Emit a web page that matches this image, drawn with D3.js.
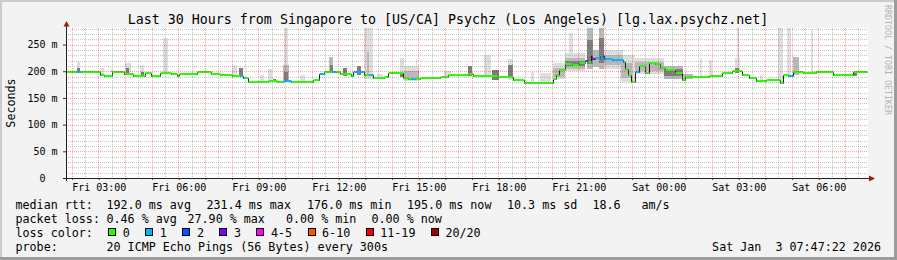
<!DOCTYPE html>
<html>
<head>
<meta charset="utf-8">
<script src="https://cdn.jsdelivr.net/npm/d3@7"></script>
<style>
  body { margin: 0; background: #f3f3f3; }
  svg text { font-family: "DejaVu Sans Mono", monospace; fill: #000; }
</style>
</head>
<body>
<svg id="chart" width="897" height="260"></svg>
<script>
// median rtt change points: hours since Fri 2026-01-02 00:00 and ms
const medianHour = [1.78, 3.06, 3.18, 3.51, 3.93, 4.30, 4.75, 4.94, 5.31, 5.69, 5.95, 5.99, 6.70, 7.19, 7.56,
  8.01, 8.39, 8.58, 9.36, 9.70, 9.89, 10.19, 11.05, 11.24, 11.43, 12.06, 12.44, 12.55, 12.93, 13.30, 13.68,
  13.86, 14.39, 14.58, 15.06, 15.56, 15.81, 16.08, 16.83, 17.05, 17.95, 18.55, 18.93, 20.05, 20.16, 20.24,
  20.50, 20.76, 20.99, 21.25, 21.36, 21.44, 21.51, 21.59, 21.81, 21.93, 22.26, 22.64, 22.75, 22.86, 22.94,
  23.09, 23.24, 23.48, 23.63, 23.85, 24.04, 24.23, 24.60, 24.86, 24.98, 25.89, 26.38, 26.75, 27.13, 27.39,
  27.64, 28.01, 28.54, 28.65, 28.84, 29.03, 29.40, 29.89, 30.53, 31.28, 31.80];
const medianMs = [198, 193, 191, 198, 194, 191, 196, 192, 196, 194, 191, 194, 198, 194, 193,
  191.5, 186.5, 179, 181, 179, 181, 179, 183, 195, 198, 194, 191, 198, 193, 186.5, 189,
  196, 187, 185, 187, 188, 189, 193, 194, 191, 190, 183.5, 178.5, 186, 193, 202,
  213, 212, 216, 220, 218, 231, 222, 225, 228, 223, 221, 218, 205, 193, 180,
  199, 209, 196, 215, 213, 206, 202, 196, 183, 189, 191, 196, 201, 193, 187,
  182, 183.5, 178.5, 193, 191, 199, 196, 198, 193, 198, 198];

// packet loss runs (everything else is 0 lost)
const lossFrom = [2.20, 8.31, 9.89, 11.24, 11.76, 12.55, 13.15, 14.69, 21.25, 21.44, 21.51, 21.59, 21.86, 21.96, 23.09, 28.84];
const lossTo   = [2.35, 8.43, 10.19, 11.43, 11.88, 12.93, 13.27, 14.84, 21.36, 21.51, 21.59, 21.86, 21.96, 22.68, 23.24, 29.03];
const lossIdx  = [1, 1, 1, 1, 1, 1, 1, 1, 3, 5, 3, 1, 2, 1, 1, 1];

// smoke: [fromHour, toHour, lowMs, highMs, shade 1..3]
const smoke = [
  [2.20, 2.31, 198, 218, 1], [2.20, 2.31, 198, 207, 3],
  [3.06, 3.18, 191, 206, 1], [3.44, 3.52, 198, 202, 2],
  [3.99, 4.19, 194, 216, 1], [4.03, 4.15, 194, 206, 3],
  [4.56, 4.68, 191, 212, 1], [4.60, 4.68, 191, 199, 3],
  [5.39, 5.58, 194, 262, 1],
  [8.01, 8.20, 191, 212, 1], [8.24, 8.39, 191, 206, 3],
  [9.06, 9.18, 179, 193, 1], [9.36, 9.51, 181, 203.5, 1], [9.55, 9.63, 181, 186, 3],
  [9.93, 10.08, 179, 290, 1], [9.89, 10.12, 183, 212, 2], [9.93, 10.08, 181, 198, 3],
  [10.56, 10.75, 179, 193, 1],
  [11.62, 11.80, 198, 227, 2], [11.66, 11.80, 198, 212, 3],
  [12.17, 12.32, 191, 206, 3], [12.70, 12.82, 193, 210, 3],
  [12.93, 13.30, 186, 290, 1], [13.04, 13.15, 193, 236, 2],
  [13.45, 13.64, 189, 195, 1],
  [14.31, 14.43, 196, 224, 1], [14.31, 14.43, 190, 196, 3],
  [14.43, 14.99, 181, 210, 1], [14.43, 14.99, 183, 200, 2], [14.88, 14.95, 187, 222, 1],
  [15.93, 16.19, 189, 200, 1], [16.86, 17.01, 191, 210, 3],
  [17.43, 17.69, 191, 230, 1], [17.76, 17.99, 184, 203, 3],
  [18.36, 18.55, 184, 222, 1], [18.36, 18.55, 188, 212, 3],
  [19.19, 19.31, 179, 199, 1], [19.56, 19.94, 179, 196, 1],
  [20.05, 20.50, 185, 215, 1], [20.05, 20.50, 190, 206, 2],
  [20.50, 21.25, 200, 235, 1], [20.50, 21.25, 205, 225, 2], [20.50, 21.25, 209, 219, 3],
  [20.62, 20.80, 210, 271, 1],
  [21.30, 21.55, 205, 290, 2], [21.30, 21.55, 214, 258, 3],
  [21.55, 21.75, 208, 240, 2],
  [21.75, 21.96, 205, 290, 2], [21.75, 21.96, 216, 262, 3],
  [21.96, 22.65, 205, 240, 1], [21.96, 22.65, 212, 230, 2],
  [22.56, 23.10, 180, 230, 1], [22.60, 23.00, 188, 215, 2],
  [23.10, 24.20, 195, 225, 1], [23.10, 24.20, 200, 218, 2],
  [24.20, 24.90, 185, 210, 2], [24.20, 24.90, 191, 204, 3],
  [24.90, 25.30, 185, 195, 2],
  [25.54, 25.63, 189, 224, 1], [25.89, 26.01, 191, 221, 1],
  [26.86, 27.05, 196, 225, 1], [26.86, 27.01, 196, 207, 3], [26.95, 27.02, 225, 290, 1],
  [27.80, 27.89, 183, 193, 1],
  [28.47, 28.65, 178, 290, 1], [28.80, 28.95, 190, 290, 1],
  [29.05, 29.24, 193, 227, 2], [29.31, 29.39, 196, 200, 1],
  [29.69, 29.77, 198, 277, 1], [29.80, 29.95, 198, 200, 1],
  [31.30, 31.45, 192, 196, 3]
];

const yTicks = [0, 50, 100, 150, 200, 250];
const yTickLabels = ["0\u00a0\u00a0", "50 m", "100 m", "150 m", "200 m", "250 m"];

const lossLabels = ["0", "1", "2", "3", "4-5", "6-10", "11-19", "20/20"];
const lossColors = ["#26ff00", "#00b8ff", "#0059ff", "#7e00ff", "#ff00ff", "#ff5500", "#ff0000", "#a00000"];

const rttStats = ["192.0 ms avg", "231.4 ms max", "176.0 ms min", "195.0 ms now", "10.3 ms sd", "18.6", "am/s"];
const lossStats = ["0.46 % avg", "27.90 % max", "0.00 % min", "0.00 % now"];
const probeText = "20 ICMP Echo Pings (56 Bytes) every 300s";
const stampText = "Sat Jan  3 07:47:22 2026";
const titleText = "Last 30 Hours from Singapore to [US/CA] Psychz (Los Angeles) [lg.lax.psychz.net]";

const shadeColors = { 1: "#dedede", 2: "#b9b9b9", 3: "#7c7c7c" };

const day0 = new Date(2026, 0, 2);
const toDate = h => new Date(day0.getTime() + h * 3600e3);
const tStart = new Date(2026, 0, 2, 1, 47, 22);
const tEnd = new Date(2026, 0, 3, 7, 47, 22);

const svg = d3.select("#chart");
const W = 897, H = 260;

const x = d3.scaleTime().domain([tStart, tEnd]).range([66.5, 866.5]);
const y = d3.scaleLinear().domain([0, 281]).range([178, 28]);

// canvas and frame
svg.append("rect").attr("width", W).attr("height", H).attr("fill", "#f3f3f3");
svg.append("rect").attr("x", 0).attr("y", 0).attr("width", W).attr("height", 2).attr("fill", "#cbcbcb");
svg.append("rect").attr("x", 0).attr("y", 0).attr("width", 2).attr("height", H).attr("fill", "#cbcbcb");
svg.append("rect").attr("x", 0).attr("y", H - 3).attr("width", W).attr("height", 3).attr("fill", "#9c9c9c");
svg.append("rect").attr("x", W - 3).attr("y", 0).attr("width", 3).attr("height", H).attr("fill", "#9c9c9c");

// plot background
svg.append("rect").attr("x", 66).attr("y", 28).attr("width", 802).attr("height", 150).attr("fill", "#fff");

svg.append("clipPath").attr("id", "plotclip")
  .append("rect").attr("x", 66).attr("y", 28).attr("width", 802).attr("height", 150);

const plot = svg.append("g").attr("clip-path", "url(#plotclip)");

// smoke
const smokeSorted = smoke.slice().sort((a, b) => a[4] - b[4]);
plot.selectAll(".smoke")
  .data(smokeSorted)
  .enter()
  .append("rect")
  .attr("class", "smoke")
  .attr("x", d => Math.round(x(toDate(d[0]))))
  .attr("width", d => Math.max(1, Math.round(x(toDate(d[1]))) - Math.round(x(toDate(d[0])))))
  .attr("y", d => Math.round(y(d[3])))
  .attr("height", d => Math.round(y(d[2])) - Math.round(y(d[3])))
  .attr("fill", d => shadeColors[d[4]]);

// grid
const gridG = svg.append("g");
const halfHours = d3.timeMinute.every(30).range(tStart, tEnd);
gridG.selectAll(".vgrid")
  .data(halfHours)
  .enter()
  .append("line")
  .attr("x1", d => Math.floor(x(d)) + 0.5)
  .attr("x2", d => Math.floor(x(d)) + 0.5)
  .attr("y1", 28)
  .attr("y2", 178)
  .attr("stroke", d => d.getMinutes() === 0 ? "rgba(255,0,0,0.38)" : "rgba(150,150,150,0.55)")
  .attr("stroke-dasharray", "1,1");

const hVals = d3.range(10, 290, 10).filter(v => v <= 281);
gridG.selectAll(".hgrid")
  .data(hVals)
  .enter()
  .append("line")
  .attr("x1", 66)
  .attr("x2", 868)
  .attr("y1", d => Math.round(y(d)) + 0.5)
  .attr("y2", d => Math.round(y(d)) + 0.5)
  .attr("stroke", d => d % 50 === 0 ? "rgba(255,0,0,0.38)" : "rgba(150,150,150,0.55)")
  .attr("stroke-dasharray", "1,1");

// median: dark step line, then loss coloured flat segments
const medianPts = medianHour.map((h, i) => [toDate(h), medianMs[i]]);
const stepLine = d3.line()
  .x(d => Math.round(x(d[0])) + 0.5)
  .y(d => Math.round(y(d[1])) + 0.5)
  .curve(d3.curveStepAfter);

plot.append("path")
  .datum(medianPts)
  .attr("d", stepLine)
  .attr("fill", "none")
  .attr("stroke", "#202020")
  .attr("stroke-width", 1);

function valueAt(h) {
  let v = medianMs[0];
  for (let i = 0; i < medianHour.length; i++) {
    if (medianHour[i] <= h) v = medianMs[i];
  }
  return v;
}
function lossAt(h) {
  for (let i = 0; i < lossFrom.length; i++) {
    if (h >= lossFrom[i] && h < lossTo[i]) return lossIdx[i];
  }
  return 0;
}

const breaks = Array.from(new Set(medianHour.concat(lossFrom, lossTo))).sort((a, b) => a - b);
const segs = [];
for (let i = 0; i < breaks.length - 1; i++) {
  const mid = (breaks[i] + breaks[i + 1]) / 2;
  segs.push({ a: breaks[i], b: breaks[i + 1], v: valueAt(mid), c: lossColors[lossAt(mid)] });
}

plot.selectAll(".seg")
  .data(segs)
  .enter()
  .append("line")
  .attr("class", "seg")
  .attr("x1", d => Math.round(x(toDate(d.a))) + 0.5)
  .attr("x2", d => Math.round(x(toDate(d.b))) + 0.5)
  .attr("y1", d => Math.round(y(d.v)))
  .attr("y2", d => Math.round(y(d.v)))
  .attr("stroke", d => d.c)
  .attr("stroke-width", 2);

// axes
const fmt = d3.timeFormat("%a %H:%M");
const xAxis = svg.append("g")
  .attr("transform", "translate(0,178)")
  .style("color", "#555")
  .call(d3.axisBottom(x)
    .ticks(d3.timeHour.every(1))
    .tickSize(2)
    .tickPadding(3.5)
    .tickFormat(d => d.getHours() % 3 === 0 ? fmt(d) : ""));
xAxis.select(".domain").remove();
xAxis.selectAll("text").attr("font-size", 10);

const yAxis = svg.append("g")
  .attr("transform", "translate(66,0)")
  .style("color", "#333")
  .call(d3.axisLeft(y)
    .tickValues(yTicks)
    .tickSize(3)
    .tickPadding(5.5)
    .tickFormat((d, i) => yTickLabels[i]));
yAxis.select(".domain").remove();
yAxis.selectAll("text").attr("font-size", 10);

svg.append("line").attr("x1", 63).attr("x2", 870).attr("y1", 178.5).attr("y2", 178.5)
  .attr("stroke", "#222");
svg.append("line").attr("x1", 66.5).attr("x2", 66.5).attr("y1", 181).attr("y2", 25)
  .attr("stroke", "#222");
svg.append("path").attr("d", "M63.5,26.5 L69.5,26.5 L66.5,21 Z").attr("fill", "#a01818");
svg.append("path").attr("d", "M869,175.5 L869,181.5 L875,178.5 Z").attr("fill", "#a01818");

// title & labels
svg.append("text")
  .attr("x", 448)
  .attr("y", 23.5)
  .attr("text-anchor", "middle")
  .attr("font-size", 13.3)
  .text(titleText);

svg.append("text")
  .attr("transform", "translate(15,103) rotate(-90)")
  .attr("text-anchor", "middle")
  .attr("font-size", 11.7)
  .text("Seconds");

svg.append("text")
  .attr("transform", "translate(885,5) rotate(90)")
  .attr("font-size", 8.3)
  .style("fill", "#b4b4b4")
  .text("RRDTOOL / TOBI OETIKER");

// legend
const rowY = [209, 223, 237, 251];
const legend = svg.append("g").attr("font-size", 11.7);

legend.append("text").attr("x", 15.5).attr("y", rowY[0]).text("median rtt:");
const rttX = [106.5, 206.5, 307, 407, 507, 592.5, 641.5];
rttStats.forEach((s, i) => {
  legend.append("text").attr("x", rttX[i]).attr("y", rowY[0]).text(s);
});

legend.append("text").attr("x", 15.5).attr("y", rowY[1]).text("packet loss:");
const lossX = [106.5, 187.5, 286, 371.5];
lossStats.forEach((s, i) => {
  legend.append("text").attr("x", lossX[i]).attr("y", rowY[1]).text(s);
});

legend.append("text").attr("x", 15.5).attr("y", rowY[2]).text("loss color:");
const charW = 7.04;
let bx = 108.3;
lossLabels.forEach((lab, i) => {
  legend.append("rect")
    .attr("x", Math.round(bx) + 0.5)
    .attr("y", rowY[2] - 8.5)
    .attr("width", 7)
    .attr("height", 7)
    .attr("fill", lossColors[i])
    .attr("stroke", "#000")
    .attr("stroke-width", 1);
  legend.append("text").attr("x", bx + 14.5).attr("y", rowY[2]).text(lab);
  bx = bx + 14.5 + lab.length * charW + 15.5;
});

legend.append("text").attr("x", 15.5).attr("y", rowY[3]).text("probe:");
legend.append("text").attr("x", 106.5).attr("y", rowY[3]).text(probeText);
legend.append("text")
  .attr("x", 881)
  .attr("y", rowY[3])
  .attr("text-anchor", "end")
  .style("white-space", "pre")
  .text(stampText);
</script>
</body>
</html>
